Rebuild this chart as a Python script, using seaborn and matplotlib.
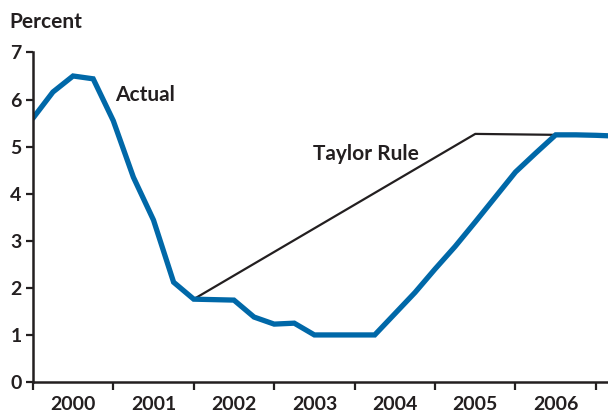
import numpy as np
import pandas as pd
import matplotlib
matplotlib.use("Agg")
import matplotlib.pyplot as plt
import seaborn as sns

# actual policy rate (x in fractional years)
actual_x = [2000.0, 2000.25, 2000.5, 2000.75, 2001.0, 2001.25, 2001.5, 2001.75,
            2002.0, 2002.25, 2002.5, 2002.75, 2003.0, 2003.25, 2003.5, 2003.75,
            2004.0, 2004.25, 2004.5, 2004.75, 2005.0, 2005.25, 2005.5, 2005.75,
            2006.0, 2006.25, 2006.5, 2006.75, 2007.0, 2007.15]
actual_y = [5.6, 6.16, 6.5, 6.44, 5.55, 4.35, 3.44, 2.12,
            1.76, 1.75, 1.74, 1.38, 1.23, 1.25, 1.0, 1.0,
            1.0, 1.0, 1.45, 1.9, 2.4, 2.88, 3.4, 3.93,
            4.46, 4.86, 5.25, 5.25, 5.24, 5.23]

# Taylor rule path
taylor_x = [2002.0, 2005.5, 2006.5]
taylor_y = [1.76, 5.27, 5.25]

years = [2000, 2001, 2002, 2003, 2004, 2005, 2006]
yticks = [0, 1, 2, 3, 4, 5, 6, 7]

blue = "#0068a8"
ink = "#231f20"

sns.set_style("ticks")
plt.rcParams['font.family'] = ['Lato', 'DejaVu Sans']

df_actual = pd.DataFrame({"year": actual_x, "rate": actual_y})
df_taylor = pd.DataFrame({"year": taylor_x, "rate": taylor_y})

fig = plt.figure(figsize=(6.08, 4.13), dpi=100)
ax = fig.add_axes([0.054, 0.075, 0.946, 0.798])

sns.lineplot(data=df_taylor, x="year", y="rate", color=ink, lw=1.6,
             estimator=None, sort=False, ax=ax)
sns.lineplot(data=df_actual, x="year", y="rate", color=blue, lw=3.8,
             estimator=None, sort=False, ax=ax, solid_joinstyle="miter")

ax.set_xlim(2000, 2007.15)
ax.set_ylim(0, 7)
ax.set_xlabel("")
ax.set_ylabel("")

# year boundaries as ticks, year labels centred in each year
ax.set_xticks(years + [2007])
ax.set_xticklabels([])
ax.set_xticks([y + 0.5 for y in years], minor=True)
ax.set_xticklabels([str(y) for y in years], minor=True)
ax.tick_params(axis="x", which="major", length=6, width=1.6, color=ink, direction="out")
ax.tick_params(axis="x", which="minor", length=0, pad=10, labelsize=14, labelcolor=ink)

ax.set_yticks(yticks)
ax.set_yticklabels([str(v) for v in yticks])
ax.tick_params(axis="y", length=5, width=1.6, color=ink, direction="out", pad=3,
               labelsize=14, labelcolor=ink)

for lab in ax.get_xticklabels(minor=True) + ax.get_yticklabels():
    lab.set_fontweight("bold")

sns.despine(ax=ax)
for s in ["left", "bottom"]:
    ax.spines[s].set_linewidth(1.8)
    ax.spines[s].set_color(ink)

fig.text(0.016, 0.932, "Percent", fontsize=15, fontweight="bold", color=ink,
         ha="left", va="baseline")
ax.text(2001.02, 5.97, "Actual", fontsize=15, fontweight="bold", color=ink,
        va="baseline")
ax.text(2003.48, 4.71, "Taylor Rule", fontsize=15, fontweight="bold", color=ink,
        va="baseline")

fig.savefig("out.png", dpi=100)
